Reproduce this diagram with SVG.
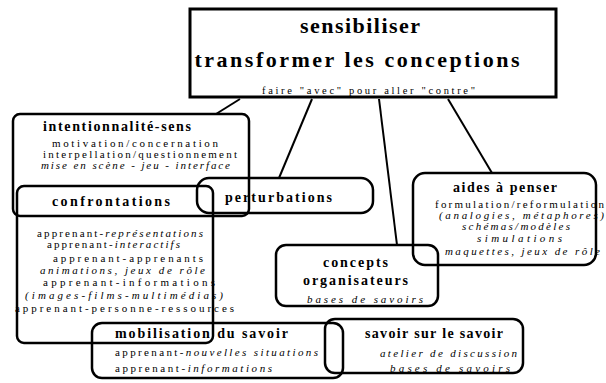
<svg xmlns="http://www.w3.org/2000/svg" width="606" height="383" viewBox="0 0 606 383">
<style>
.box{fill:none;stroke:#000;stroke-width:2.5}
.top{fill:none;stroke:#000;stroke-width:3}
.con line{stroke:#000;stroke-width:2}
text{font-family:"Liberation Serif","Times New Roman",serif;fill:#000}
.h{font-weight:bold;font-size:22px}
.t{font-weight:bold;font-size:14px}
.b{font-size:11px}
.s{font-size:10.5px}
.i{font-style:italic}
</style>
<rect width="606" height="383" fill="#fff"/>
<g id="connectors" class="con">
<line x1="240" y1="99" x2="216" y2="114"/>
<line x1="312" y1="99" x2="279" y2="178"/>
<line x1="379" y1="99" x2="397" y2="245"/>
<line x1="448" y1="99" x2="492" y2="173"/>
</g>
<g id="sensibiliser">
<rect class="top" x="190" y="9" width="366" height="88"/>
<text class="h" x="360" y="33" text-anchor="middle" textLength="120" lengthAdjust="spacing">sensibiliser</text>
<text class="h" x="357" y="67" text-anchor="middle" textLength="325" lengthAdjust="spacing">transformer les conceptions</text>
<text class="s" x="262" y="94" textLength="213" lengthAdjust="spacing">faire "avec" pour aller "contre"</text>
</g>
<g id="intentionnalite">
<rect class="box" x="13" y="114" width="236" height="102" rx="7"/>
<text class="t" x="43" y="131" textLength="148" lengthAdjust="spacing">intentionnalité-sens</text>
<text class="b" x="52" y="147" textLength="166" lengthAdjust="spacing">motivation/concernation</text>
<text class="b" x="43" y="158" textLength="194" lengthAdjust="spacing">interpellation/questionnement</text>
<text class="b i" x="41" y="169" textLength="189" lengthAdjust="spacing">mise en scène - jeu - interface</text>
</g>
<g id="confrontations">
<rect class="box" x="17" y="186" width="196" height="157" rx="7"/>
<text class="t" x="52" y="206" textLength="118" lengthAdjust="spacing">confrontations</text>
<text class="b" x="37" y="237" textLength="166" lengthAdjust="spacing">apprenant-<tspan class="i">représentations</tspan></text>
<text class="b" x="47" y="248" textLength="133" lengthAdjust="spacing">apprenant-<tspan class="i">interactifs</tspan></text>
<text class="b" x="53" y="262" textLength="150" lengthAdjust="spacing">apprenant-apprenants</text>
<text class="b i" x="40" y="274" textLength="165" lengthAdjust="spacing">animations, jeux de rôle</text>
<text class="b" x="43" y="286" textLength="172" lengthAdjust="spacing">apprenant-informations</text>
<text class="b i" x="25" y="299" textLength="198" lengthAdjust="spacing">(images-films-multimédias)</text>
<text class="b" x="15" y="312" textLength="219" lengthAdjust="spacing">apprenant-personne-ressources</text>
</g>
<g id="perturbations">
<rect class="box" x="197" y="178" width="176" height="35" rx="12"/>
<text class="t" x="225" y="202" textLength="107" lengthAdjust="spacing">perturbations</text>
</g>
<g id="aides">
<rect class="box" x="413" y="173" width="183" height="92" rx="12"/>
<text class="t" x="453" y="192" textLength="104" lengthAdjust="spacing">aides à penser</text>
<text class="b" x="435" y="208" textLength="169" lengthAdjust="spacing">formulation/reformulation</text>
<text class="b i" x="439" y="219" textLength="165" lengthAdjust="spacing">(analogies, métaphores)</text>
<text class="b i" x="462" y="230" textLength="108" lengthAdjust="spacing">schémas/modèles</text>
<text class="b i" x="477" y="242" textLength="85" lengthAdjust="spacing">simulations</text>
<text class="b i" x="445" y="255" textLength="155" lengthAdjust="spacing">maquettes, jeux de rôle</text>
</g>
<g id="concepts">
<rect class="box" x="276" y="245" width="162" height="61" rx="10"/>
<text class="t" x="323" y="267" textLength="65" lengthAdjust="spacing">concepts</text>
<text class="t" x="303" y="285" textLength="105" lengthAdjust="spacing">organisateurs</text>
<text class="b i" x="307" y="303" textLength="116" lengthAdjust="spacing">bases de savoirs</text>
</g>
<g id="mobilisation">
<rect class="box" x="92" y="323" width="251" height="55" rx="10"/>
<text class="t" x="115" y="338" textLength="173" lengthAdjust="spacing">mobilisation du savoir</text>
<text class="b" x="115" y="356" textLength="203" lengthAdjust="spacing">apprenant-<tspan class="i">nouvelles situations</tspan></text>
<text class="b" x="115" y="372" textLength="157" lengthAdjust="spacing">apprenant-<tspan class="i">informations</tspan></text>
</g>
<g id="savoir">
<rect class="box" x="325" y="319" width="198" height="54" rx="10"/>
<text class="t" x="365" y="338" textLength="138" lengthAdjust="spacing">savoir sur le savoir</text>
<text class="b i" x="380" y="357" textLength="137" lengthAdjust="spacing">atelier de discussion</text>
<text class="b i" x="390" y="372" textLength="120" lengthAdjust="spacing">bases de savoirs</text>
</g>
</svg>
